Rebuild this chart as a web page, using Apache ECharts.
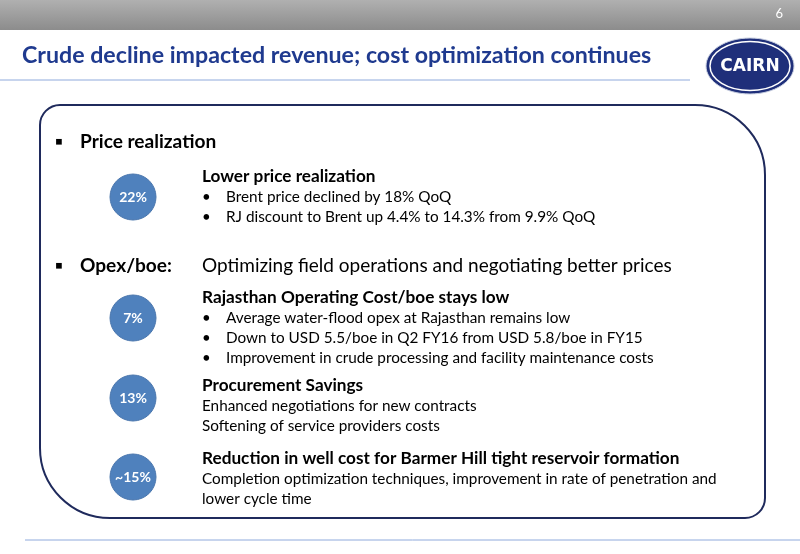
<!DOCTYPE html>
<html><head><meta charset="utf-8">
<script src="https://cdn.jsdelivr.net/npm/echarts@6/dist/echarts.min.js"></script>
<style>html,body{margin:0;padding:0;background:#fff}#chart{width:800px;height:554px}</style>
</head><body><div id="chart"></div>
<script>
const badges = ["22%", "7%", "13%", "~15%"];
const badgeY = [197, 318, 398, 477];
const headings = ["Lower price realization", "Rajasthan Operating Cost/boe stays low", "Procurement Savings", "Reduction in well cost for Barmer Hill tight reservoir formation"];
const headingY = [176, 297, 385, 458];
const bodyLines = [
  ["Brent price declined by 18% QoQ", "RJ discount to Brent up 4.4% to 14.3% from 9.9% QoQ"],
  ["Average water-flood opex at Rajasthan remains low", "Down to USD 5.5/boe in Q2 FY16 from USD 5.8/boe in FY15", "Improvement in crude processing and facility maintenance costs"],
  ["Enhanced negotiations for new contracts", "Softening of service providers costs"],
  ["Completion optimization techniques, improvement in rate of penetration and", "lower cycle time"]
];
const bodyBulleted = [true, true, false, false];

const font = "Lato, 'Open Sans', sans-serif";
const els = [
  { type: "rect", shape: { x: 0, y: 0, width: 800, height: 30 },
    style: { fill: new echarts.graphic.LinearGradient(0, 0, 0, 1, [{ offset: 0, color: "#b0b0b0" }, { offset: 1, color: "#8c8c8c" }]) } },
  { type: "text", x: 783, y: 14, style: { text: "6", fill: "#fff", font: "13px " + font, align: "right", verticalAlign: "middle" } },
  { type: "text", x: 22, y: 56, style: { text: "Crude decline impacted revenue; cost optimization continues", fill: "#1f3a8f", font: "bold 23.2px " + font, verticalAlign: "middle" } },
  { type: "line", shape: { x1: 0, y1: 80, x2: 690, y2: 80 }, style: { stroke: "#8faadc", lineWidth: 1 } },
  { type: "ellipse", shape: { cx: 750, cy: 66, rx: 44, ry: 28 }, style: { fill: "#1f2f7a", stroke: "#c8cfe0", lineWidth: 1 } },
  { type: "ellipse", shape: { cx: 750, cy: 66, rx: 40, ry: 24.5 }, style: { fill: "none", stroke: "#fff", lineWidth: 1.5 } },
  { type: "text", x: 750, y: 67, style: { text: "CAIRN", fill: "#fff", font: "900 17px 'DejaVu Sans', sans-serif", align: "center", verticalAlign: "middle" } },
  { type: "rect", shape: { x: 40, y: 105, width: 725, height: 413, r: [20, 70, 20, 70] }, style: { fill: "none", stroke: "#1f2a5c", lineWidth: 2 } },
  { type: "line", shape: { x1: 25, y1: 540, x2: 800, y2: 540 }, style: { stroke: "#8faadc", lineWidth: 1 } },
  { type: "text", x: 55, y: 142, style: { text: "▪", fill: "#000", font: "bold 19px " + font, verticalAlign: "middle" } },
  { type: "text", x: 80, y: 142, style: { text: "Price realization", fill: "#000", font: "bold 19.1px " + font, verticalAlign: "middle" } },
  { type: "text", x: 55, y: 266, style: { text: "▪", fill: "#000", font: "bold 19px " + font, verticalAlign: "middle" } },
  { type: "text", x: 80, y: 266, style: { text: "Opex/boe:", fill: "#000", font: "bold 19.1px " + font, verticalAlign: "middle" } },
  { type: "text", x: 202, y: 266, style: { text: "Optimizing field operations and negotiating better prices", fill: "#000", font: "19px " + font, verticalAlign: "middle" } }
];
badges.forEach((b, i) => {
  els.push({ type: "circle", shape: { cx: 133, cy: badgeY[i], r: 23 }, style: { fill: "#4f81bd", stroke: "#4a76ad", lineWidth: 1 } });
  els.push({ type: "text", x: 133, y: badgeY[i], style: { text: b, fill: "#fff", font: "bold 14px " + font, align: "center", verticalAlign: "middle" } });
  els.push({ type: "text", x: 202, y: headingY[i], style: { text: headings[i], fill: "#000", font: "bold 17.2px " + font, verticalAlign: "middle" } });
  bodyLines[i].forEach((t, j) => {
    const y = headingY[i] + 21 + j * 20;
    if (bodyBulleted[i]) {
      els.push({ type: "text", x: 202, y, style: { text: "•", fill: "#000", font: "15px " + font, verticalAlign: "middle" } });
      els.push({ type: "text", x: 226, y, style: { text: t, fill: "#000", font: "15.3px " + font, verticalAlign: "middle" } });
    } else {
      els.push({ type: "text", x: 202, y, style: { text: t, fill: "#000", font: "15.3px " + font, verticalAlign: "middle" } });
    }
  });
});

const chart = echarts.init(document.getElementById("chart"));
chart.setOption({ animation: false, graphic: { elements: els } });
</script></body></html>
